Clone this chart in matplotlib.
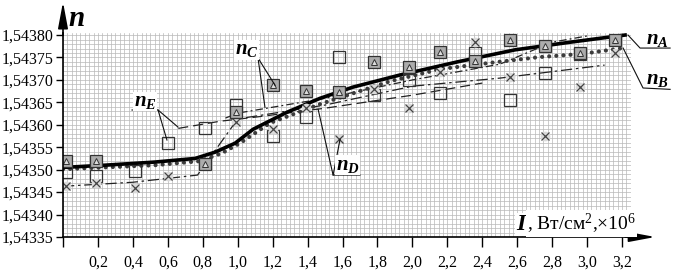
import matplotlib
matplotlib.use("Agg")
import matplotlib.pyplot as plt
import numpy as np

# measured points (I, W/cm2 x 1e6)
pts_x = [0.02, 0.19, 0.41, 0.60, 0.81, 0.99, 1.20, 1.39, 1.58, 1.78,
         1.98, 2.16, 2.36, 2.56, 2.76, 2.96, 3.16]
nan = np.nan
tri_y = [1.543519, 1.543519, nan, nan, 1.543512, 1.543628, 1.543688, 1.543675,
         1.543673, 1.543740, 1.543729, 1.543762, 1.543742, 1.543789, 1.543775,
         1.543760, 1.543789]
sq_y = [1.543494, 1.543485, 1.543496, 1.543559, 1.543592, 1.543644, 1.543575,
        1.543617, 1.543751, 1.543666, 1.543700, 1.543671, 1.543760, 1.543655,
        1.543715, 1.543758, nan]
cross_y = [1.543463, 1.543470, 1.543459, 1.543485, nan, 1.543606, 1.543590,
           1.543637, 1.543568, 1.543679, 1.543637, 1.543717, 1.543784, 1.543706,
           1.543575, 1.543684, 1.543760]

# curves
nA_x = [0.0, 0.24, 0.527, 0.756, 0.87, 0.985, 1.088, 1.282, 1.471, 1.66,
        1.929, 2.255, 2.587, 2.902, 3.217]
nA_y = [1.543505, 1.543510, 1.543517, 1.543525, 1.543539, 1.543559, 1.543590,
        1.543628, 1.543659, 1.543684, 1.543711, 1.543740, 1.543767, 1.543784,
        1.543800]
nB_x = [0.0, 0.527, 0.784, 0.91, 1.013, 1.185, 1.471, 1.872, 2.158, 2.444,
        2.73, 2.971, 3.206]
nB_y = [1.543501, 1.543510, 1.543519, 1.543537, 1.543559, 1.543604, 1.543646,
        1.543697, 1.543724, 1.543738, 1.543751, 1.543758, 1.543771]
nC_x = [0.93, 1.0, 1.5, 2.0, 2.5, 2.8, 3.0]
nC_y = [1.543615, 1.543626, 1.543659, 1.543700, 1.543735, 1.543784, 1.543798]
nD_x = [0.0, 0.4, 0.77, 1.0, 1.5, 2.0, 2.5, 3.1]
nD_y = [1.543463, 1.543472, 1.543488, 1.543613, 1.543644, 1.543686, 1.543704,
        1.543733]
nE_x = [0.66, 0.9, 1.1, 1.5, 2.0, 2.4]
nE_y = [1.543592, 1.543608, 1.543617, 1.543637, 1.543666, 1.543693]

x_ticks = [0.2 * i for i in range(17)]
x_labels = [""] + [f"{v:.1f}".replace(".", ",") for v in x_ticks[1:]]
y_ticks = [1.54335 + 0.00005 * i for i in range(10)]
y_labels = [f"{v:.5f}".replace(".", ",") for v in y_ticks]

SERIF = ["Liberation Serif", "DejaVu Serif"]
plt.rcParams["font.family"] = SERIF
plt.rcParams["mathtext.fontset"] = "custom"
plt.rcParams["mathtext.rm"] = "Liberation Serif"
plt.rcParams["mathtext.it"] = "Liberation Serif:italic:bold"
plt.rcParams["mathtext.bf"] = "Liberation Serif:bold"

W, H = 674, 271
fig = plt.figure(figsize=(W / 100, H / 100), dpi=100)
ax = fig.add_axes([63 / W, 34 / H, 567.8 / W, 204.2 / H])
ax.set_xlim(0, 3.25)
ax.set_ylim(1.54335, 1.543805)

ax.set_xticks(x_ticks)
ax.set_xticklabels(x_labels, fontsize=11.5, family=SERIF)
ax.set_yticks(y_ticks)
ax.set_yticklabels(y_labels, fontsize=11.5, family=SERIF)
ax.set_xticks(np.arange(0, 3.25, 0.025), minor=True)
ax.set_yticks(np.linspace(1.54335, 1.54380, 46), minor=True)
ax.tick_params(which="minor", length=0)
ax.tick_params(axis="x", which="major", direction="out", length=7, width=1, pad=6)
ax.tick_params(axis="y", which="major", direction="out", length=5, width=1, pad=2)
ax.grid(which="both", color="#b8b8b8", lw=0.5)
ax.set_axisbelow(True)
for s in ("top", "right"):
    ax.spines[s].set_visible(False)
for s in ("left", "bottom"):
    ax.spines[s].set_linewidth(1.2)

# axis arrows
ax.annotate("", xy=(0, 1.151), xytext=(0, 0.99), xycoords="axes fraction",
            arrowprops=dict(arrowstyle="-|>,head_length=1.6,head_width=0.3",
                            color="k", lw=1.2, shrinkA=0, shrinkB=0))
ax.annotate("", xy=(1.043, 0), xytext=(0.99, 0), xycoords="axes fraction",
            arrowprops=dict(arrowstyle="-|>,head_length=1.6,head_width=0.3",
                            color="k", lw=1.2, shrinkA=0, shrinkB=0))

# curves
ax.plot(nD_x, nD_y, color="#222222", lw=0.9, dashes=(9, 3, 2, 3))
ax.plot(nE_x, nE_y, color="#222222", lw=0.9, dashes=(8, 4))
ax.plot(nC_x, nC_y, color="#222222", lw=0.9, dashes=(6, 2.5, 1.5, 2.5))
ax.plot(nB_x, nB_y, color="#3c3c3c", lw=3.0, dashes=(0.01, 1.7),
        dash_capstyle="round")
ax.plot(nA_x, nA_y, color="black", lw=2.6)

# markers
ax.plot(pts_x, sq_y, ls="none", marker="s", ms=8.5, mfc="none", mec="#333333",
        mew=0.9)
ax.plot(pts_x, cross_y, ls="none", marker="o", ms=7, mfc="#dadada", mec="none")
ax.plot(pts_x, cross_y, ls="none", marker="x", ms=5.5, mec="#444444", mew=0.9)
ax.plot(pts_x, tri_y, ls="none", marker="s", ms=8, mfc="#acacac", mec="#333333",
        mew=0.9)
ax.plot(pts_x, tri_y, ls="none", marker="^", ms=5, mfc="#dcdcdc", mec="#333333",
        mew=0.7)

# curve labels with leader lines
lead = dict(color="#111111", lw=0.8, clip_on=False)
box = dict(facecolor="white", edgecolor="none", pad=0.3)
ax.plot([3.234, 3.303, 3.475], [1.543800, 1.543771, 1.543771], **lead)
ax.text(3.40, 1.543790, "$n_A$", fontsize=15, ha="center", va="center",
        clip_on=False)
ax.plot([3.206, 3.32, 3.475], [1.543771, 1.543682, 1.543679], **lead)
ax.text(3.40, 1.543702, "$n_B$", fontsize=15, ha="center", va="center",
        clip_on=False)
ax.plot([0.985, 1.116, 1.214], [1.543749, 1.543749, 1.543688], **lead)
ax.plot([1.116, 1.156], [1.543749, 1.543639], **lead)
ax.text(1.05, 1.543767, "$n_C$", fontsize=15, ha="center", va="center",
        bbox=box)
ax.plot([0.395, 0.544, 0.658], [1.543633, 1.543633, 1.543595], **lead)
ax.plot([0.544, 0.595], [1.543633, 1.543566], **lead)
ax.text(0.47, 1.543652, "$n_E$", fontsize=15, ha="center", va="center",
        bbox=box)
ax.plot([1.46, 1.546, 1.70], [1.543635, 1.543488, 1.543488], **lead)
ax.plot([1.546, 1.586], [1.543488, 1.543568], **lead)
ax.text(1.63, 1.543510, "$n_D$", fontsize=15, ha="center", va="center",
        bbox=box)

# axis titles
fig.text(68 / W, 1 - 26 / H, "$n$", fontsize=21, ha="left", va="baseline")
fig.text(516 / W, 1 - 230 / H, "$I$", fontsize=17, ha="left", va="baseline",
         bbox=dict(facecolor="white", edgecolor="none", pad=1))
fig.text(527 / W, 1 - 230 / H, r", Вт/см$^{\mathrm{2}}$,×10$^{\mathrm{6}}$",
         fontsize=14, ha="left", va="baseline",
         bbox=dict(facecolor="white", edgecolor="none", pad=1))

fig.savefig("out.png", dpi=100)
